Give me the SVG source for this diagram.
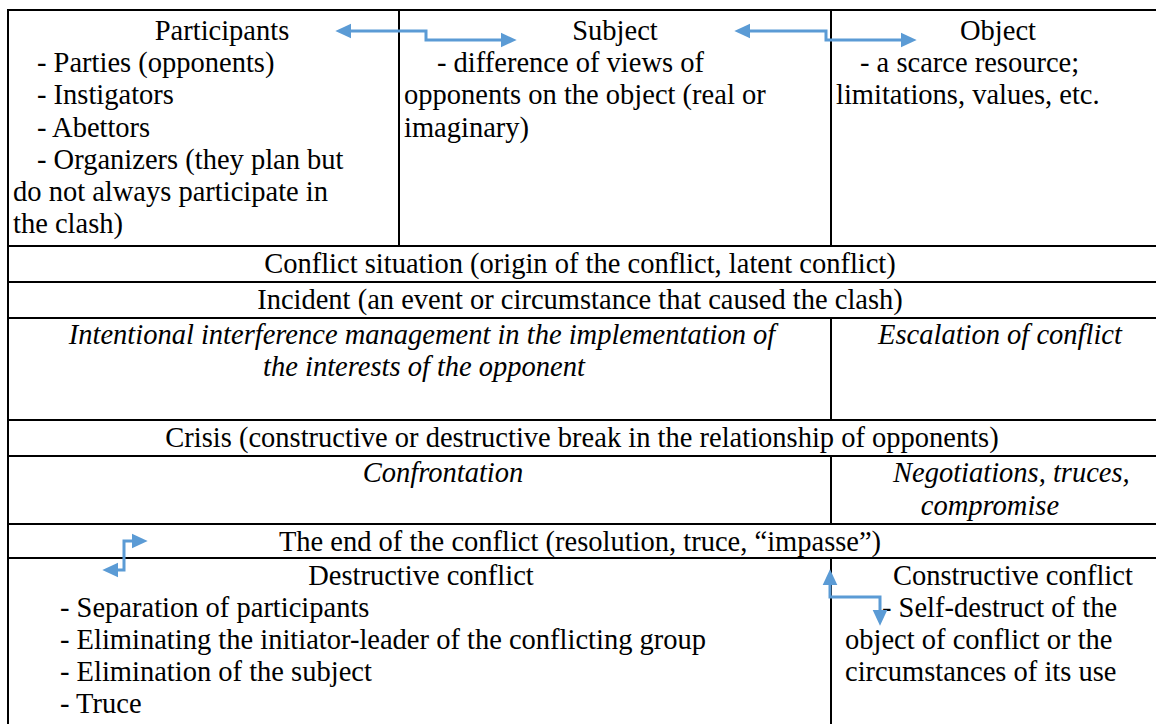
<svg xmlns="http://www.w3.org/2000/svg" width="1156" height="724" viewBox="0 0 1156 724">
<style>
  text { font-family: "Liberation Serif", "Times New Roman", serif; font-size: 28.5px; fill: #000; }
  .c { text-anchor: middle; }
  .i { font-style: italic; }
  .grid line { stroke: #000; stroke-width: 2; }
  .arrow { fill: none; stroke: #5B9BD5; stroke-width: 3; marker-start: url(#ah); marker-end: url(#ah); }
</style>
<defs>
  <marker id="ah" markerUnits="userSpaceOnUse" markerWidth="16" markerHeight="16" viewBox="0 0 15 14" refX="5" refY="7" orient="auto-start-reverse">
    <path d="M0,0 L15,7 L0,14 Z" fill="#5B9BD5"/>
  </marker>
</defs>
<rect width="1156" height="724" fill="#fff"/>
<g id="grid" class="grid">
  <line x1="8" y1="10" x2="1156" y2="10"/>
  <line x1="8" y1="9" x2="8" y2="724"/>
  <line x1="399" y1="10" x2="399" y2="246"/>
  <line x1="831" y1="10" x2="831" y2="246"/>
  <line x1="8" y1="246" x2="1156" y2="246"/>
  <line x1="8" y1="282" x2="1156" y2="282"/>
  <line x1="8" y1="318" x2="1156" y2="318"/>
  <line x1="831" y1="318" x2="831" y2="420"/>
  <line x1="8" y1="420" x2="1156" y2="420"/>
  <line x1="8" y1="456" x2="1156" y2="456"/>
  <line x1="831" y1="456" x2="831" y2="524"/>
  <line x1="8" y1="524" x2="1156" y2="524"/>
  <line x1="8" y1="558" x2="1156" y2="558"/>
  <line x1="831" y1="558" x2="831" y2="724"/>
</g>
<g id="participants">
  <text x="222" y="40" class="c">Participants</text>
  <text x="37" y="72">- Parties (opponents)</text>
  <text x="37" y="104">- Instigators</text>
  <text x="37" y="137">- Abettors</text>
  <text x="37" y="169">- Organizers (they plan but</text>
  <text x="13" y="201">do not always participate in</text>
  <text x="13" y="233">the clash)</text>
</g>
<g id="subject">
  <text x="615" y="40" class="c">Subject</text>
  <text x="437" y="72">- difference of views of</text>
  <text x="404" y="104">opponents on the object (real or</text>
  <text x="404" y="137">imaginary)</text>
</g>
<g id="object">
  <text x="998" y="40" class="c">Object</text>
  <text x="860" y="72">- a scarce resource;</text>
  <text x="836" y="104">limitations, values, etc.</text>
</g>
<g id="conflict-situation">
  <text x="580" y="273" class="c">Conflict situation (origin of the conflict, latent conflict)</text>
</g>
<g id="incident">
  <text x="580" y="309" class="c">Incident (an event or circumstance that caused the clash)</text>
</g>
<g id="interference">
  <text x="422" y="344" class="i c">Intentional interference management in the implementation of</text>
  <text x="424" y="376" class="i c">the interests of the opponent</text>
</g>
<g id="escalation">
  <text x="1000" y="344" class="i c">Escalation of conflict</text>
</g>
<g id="crisis">
  <text x="582" y="447" class="c">Crisis (constructive or destructive break in the relationship of opponents)</text>
</g>
<g id="confrontation">
  <text x="443" y="482" class="i c">Confrontation</text>
</g>
<g id="negotiations">
  <text x="893" y="482" class="i">Negotiations, truces,</text>
  <text x="990" y="515" class="i c">compromise</text>
</g>
<g id="end">
  <text x="580" y="551" class="c">The end of the conflict (resolution, truce, “impasse”)</text>
</g>
<g id="destructive">
  <text x="421" y="585" class="c">Destructive conflict</text>
  <text x="60" y="617">- Separation of participants</text>
  <text x="60" y="649">- Eliminating the initiator-leader of the conflicting group</text>
  <text x="60" y="681">- Elimination of the subject</text>
  <text x="60" y="713">- Truce</text>
</g>
<g id="constructive">
  <text x="893" y="585">Constructive conflict</text>
  <text x="882" y="617">- Self-destruct of the</text>
  <text x="845" y="649">object of conflict or the</text>
  <text x="845" y="681">circumstances of its use</text>
</g>
<g id="connectors">
  <polyline class="arrow" points="346,31 426,31 426,40 506,40"/>
  <polyline class="arrow" points="745,31 826,31 826,40 906,40"/>
  <polyline class="arrow" points="137,541 124,541 124,570 113,570"/>
  <polyline class="arrow" points="830,580 830,597 880,597 880,615"/>
</g>
</svg>
